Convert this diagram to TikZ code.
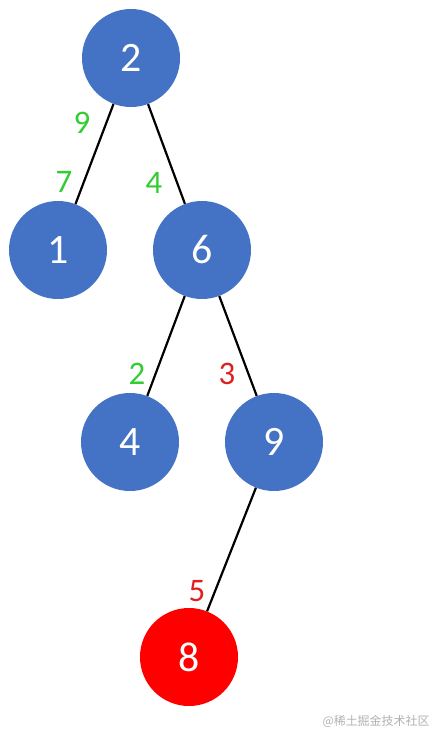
\documentclass[tikz,border=0pt]{standalone}
\usepackage{fontspec}
\setmainfont{Carlito}
\newfontfamily\cjk{Noto Sans CJK SC}
\definecolor{nodeblue}{HTML}{4472C4}
\definecolor{lblgreen}{HTML}{33CC33}
\definecolor{lblred}{HTML}{E02020}
\begin{document}
\begin{tikzpicture}[x=1bp,y=-1bp,
  tnode/.style={circle,fill=nodeblue,minimum size=98bp,inner sep=0pt,text=white,font=\fontsize{42}{44}\selectfont},
  rnode/.style={tnode,fill=red,text=white},
  edge/.style={draw=black,line width=2.2bp},
  glbl/.style={text=lblgreen,font=\fontsize{33}{35}\selectfont,inner sep=0pt},
  rlbl/.style={text=lblred,font=\fontsize{33}{35}\selectfont,inner sep=0pt}]
\useasboundingbox[fill=white] (0,0) rectangle (440,740);
\node[tnode] (n2) at (131,58) {2};
\node[tnode] (n1) at (58,250) {1};
\node[tnode] (n6) at (202,250) {6};
\node[tnode] (n4) at (130,442) {4};
\node[tnode] (n9) at (274,442) {9};
\node[rnode] (n8) at (189,657) {8};
\draw[edge] (n2) -- (n1);
\draw[edge] (n2) -- (n6);
\draw[edge] (n6) -- (n4);
\draw[edge] (n6) -- (n9);
\draw[edge] (n9) -- (n8);
\node[glbl] (l9) at (82,123) {9};
\node[glbl] (l7) at (64,182) {7};
\node[glbl] (l4) at (154,183) {4};
\node[glbl] (l2) at (137,374) {2};
\node[rlbl] (l3) at (227,374) {3};
\node[rlbl] (l5) at (197,591) {5};
\node[text=gray!60,font=\cjk\fontsize{12}{13}\selectfont] (wm) at (376,721) {@稀土掘金技术社区};
\end{tikzpicture}
\end{document}
